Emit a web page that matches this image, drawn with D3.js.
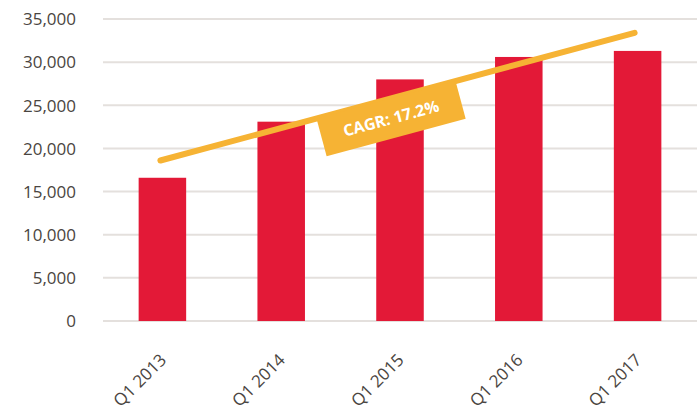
<!DOCTYPE html>
<html>
<head>
<meta charset="utf-8">
<script src="https://cdn.jsdelivr.net/npm/d3@7"></script>
<style>
  body { margin: 0; background: #fff; }
  svg text { font-family: "Open Sans", sans-serif; }
</style>
</head>
<body>
<div id="chart"></div>
<script>
// data
const quarters = ['Q1 2013', 'Q1 2014', 'Q1 2015', 'Q1 2016', 'Q1 2017'];
const values = [16600, 23100, 28000, 30600, 31300];
const yTicks = [0, 5000, 10000, 15000, 20000, 25000, 30000, 35000];
const trendStart = 18600, trendEnd = 33400;
const cagrLabel = 'CAGR: 17.2%';

const width = 697, height = 405;
const margin = { top: 19, right: 0, bottom: 84, left: 103 };

const svg = d3.select('#chart').append('svg')
    .attr('width', width).attr('height', height);

const x = d3.scaleBand(quarters, [margin.left, width - margin.right])
    .paddingInner(0.6).paddingOuter(0.3);
const y = d3.scaleLinear([0, 35000], [height - margin.bottom, margin.top]);

// gridlines
svg.append('g')
    .selectAll('line')
    .data(yTicks)
    .join('line')
    .attr('x1', margin.left).attr('x2', width)
    .attr('y1', d => y(d)).attr('y2', d => y(d))
    .attr('stroke', '#e4e0dd')
    .attr('stroke-width', 2);

// y axis labels
const axisY = svg.append('g')
    .attr('transform', `translate(${margin.left - 27},0)`)
    .call(d3.axisLeft(y).tickValues(yTicks).tickFormat(d3.format(',')).tickSize(0).tickPadding(0));
axisY.select('.domain').remove();
axisY.selectAll('text')
    .attr('fill', '#4a4541')
    .style('font-size', '17px')
    .attr('dy', '0.34em');

// bars
svg.append('g')
    .selectAll('rect')
    .data(values)
    .join('rect')
    .attr('x', (d, i) => x(quarters[i]))
    .attr('width', x.bandwidth())
    .attr('y', d => y(d))
    .attr('height', d => y(0) - y(d))
    .attr('fill', '#e31937');

// x axis labels (rotated)
svg.append('g')
    .selectAll('text')
    .data(quarters)
    .join('text')
    .attr('transform', d => `translate(${x(d) + x.bandwidth() / 2 + 5},${y(0) + 40}) rotate(-45)`)
    .attr('text-anchor', 'end')
    .attr('fill', '#4a4541')
    .style('font-size', '17px')
    .text(d => d);

// CAGR trend line
const cx0 = x(quarters[0]) + x.bandwidth() / 2 - 2;
const cx1 = x(quarters[quarters.length - 1]) + x.bandwidth() / 2 - 3;
const p0 = [cx0, y(trendStart)], p1 = [cx1, y(trendEnd)];
svg.append('line')
    .attr('x1', p0[0]).attr('y1', p0[1])
    .attr('x2', p1[0]).attr('y2', p1[1])
    .attr('stroke', '#f6b334')
    .attr('stroke-width', 6)
    .attr('stroke-linecap', 'round');

// CAGR label box
const angle = Math.atan2(p1[1] - p0[1], p1[0] - p0[0]) * 180 / Math.PI;
const bx = 386;
const mid = [bx, p0[1] + (p1[1] - p0[1]) * (bx - cx0) / (cx1 - cx0)];
const badge = svg.append('g')
    .attr('transform', `translate(${mid[0]},${mid[1]}) rotate(${angle})`);
badge.append('rect')
    .attr('x', -72).attr('y', 0)
    .attr('width', 144).attr('height', 39)
    .attr('fill', '#f6b334');
badge.append('text')
    .attr('x', 0).attr('y', 25)
    .attr('text-anchor', 'middle')
    .attr('fill', '#fff')
    .style('font-size', '16px')
    .style('font-weight', 'bold')
    .text(cagrLabel);
</script>
</body>
</html>
